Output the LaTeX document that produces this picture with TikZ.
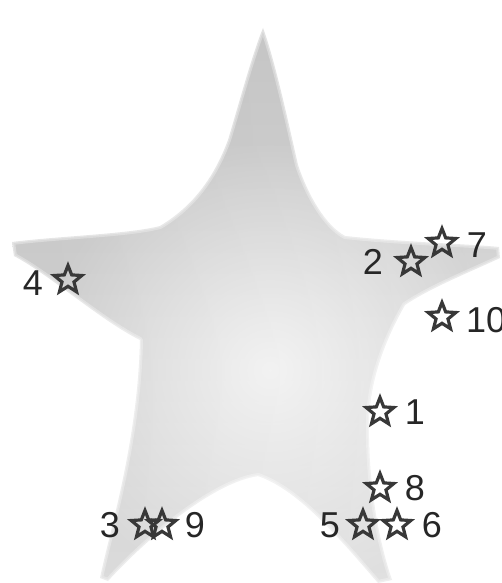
\documentclass[tikz,border=0pt]{standalone}
\usepackage{fontspec}
\setmainfont{Liberation Sans}
\usetikzlibrary{shapes.geometric,fadings}
\definecolor{mark}{HTML}{383838}
\definecolor{txt}{HTML}{262626}
\definecolor{topg}{HTML}{C8C8C8}
\definecolor{midg}{HTML}{DCDCDC}
\definecolor{botg}{HTML}{E2E2E2}
\tikzfading[name=softglow, inner color=transparent!0, outer color=transparent!100]
\tikzset{
  marker/.style={star, star points=5, star point ratio=2.3, minimum size=29pt, inner sep=0pt, draw=mark, line width=3.2pt},
  lab/.style={inner sep=0pt, text=txt, font=\fontsize{36}{36}\selectfont}
}
\begin{document}
\begin{tikzpicture}[x=1pt,y=-1pt]
\useasboundingbox (0,0) rectangle (501,583);
\def\starpath{(263,28) .. controls (275,60) and (290,130) .. (298,165)
  .. controls (308,195) and (325,225) .. (345,236)
  .. controls (400,242) and (470,244) .. (499,247)
  -- (500,258)
  .. controls (470,272) and (430,288) .. (405,305)
  .. controls (385,340) and (370,380) .. (369,420)
  .. controls (368,470) and (375,530) .. (392,580)
  -- (378,583)
  .. controls (345,545) and (300,490) .. (258,476)
  .. controls (215,482) and (150,535) .. (108,581)
  -- (100,578)
  .. controls (110,530) and (138,440) .. (140,340)
  .. controls (100,320) and (50,275) .. (14,256)
  -- (12,242)
  .. controls (60,236) and (130,234) .. (160,226)
  .. controls (195,205) and (215,175) .. (228,140)
  .. controls (240,100) and (252,55) .. (263,28) -- cycle}
\shade[top color=topg, middle color=midg, bottom color=botg] \starpath;
\begin{scope}
  \clip \starpath;
  \fill[white, opacity=0.8, path fading=softglow] (270,370) circle (230pt);
  \shade[left color=black, right color=white, opacity=0.04] (0,0) rectangle (501,583);
\end{scope}
\draw[white, opacity=0.3, line width=6pt, line join=round] \starpath;
\draw[white, opacity=0.3, line width=2.5pt, line join=round] \starpath;
% markers
\node[marker] (s4) at (68,280) {};
\node[lab] (l4) at (33,283) {4};
\node[marker] (s2) at (411,262) {};
\node[lab] (l2) at (373,262) {2};
\node[marker] (s7) at (442,243) {};
\node[lab] (l7) at (477,245) {7};
\node[marker] (s10) at (442,317) {};
\node[lab, anchor=west] (l10) at (466,320) {10};
\node[marker] (s1) at (380,412) {};
\node[lab] (l1) at (415,412) {1};
\node[marker] (s8) at (380,488) {};
\node[lab] (l8) at (415,488) {8};
\node[marker] (s5) at (363,525) {};
\node[marker] (s6) at (397,525) {};
\node[lab] (l5) at (330,525) {5};
\node[lab] (l6) at (432,525) {6};
\node[marker] (s3) at (145,525) {};
\node[marker] (s9) at (162,525) {};
\node[lab] (l3) at (110,525) {3};
\node[lab] (l9) at (195,525) {9};
\end{tikzpicture}
\end{document}
